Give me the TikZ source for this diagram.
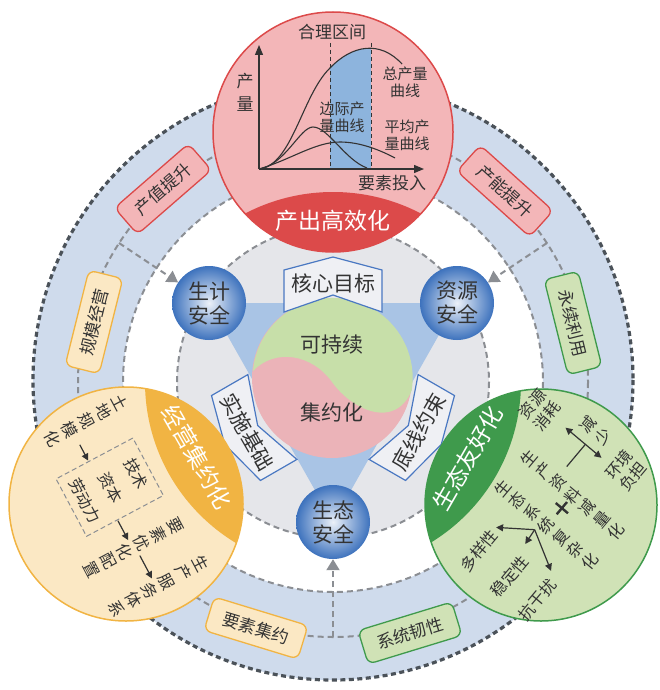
\documentclass[tikz,border=0pt]{standalone}
\usepackage{fontspec}
\setmainfont{Noto Sans CJK SC}
\usetikzlibrary{arrows.meta}

\definecolor{ringfill}{HTML}{CFDBEC}
\definecolor{ringedge}{HTML}{4B5259}
\definecolor{dashgray}{HTML}{8B8E93}
\definecolor{diskgray}{HTML}{E5E6EA}
\definecolor{triblue}{HTML}{A9C4E5}
\definecolor{yingreen}{HTML}{C7DFA9}
\definecolor{yangpink}{HTML}{EBB3B8}
\definecolor{chevfill}{HTML}{EFF0F4}
\definecolor{chevedge}{HTML}{4A78C2}
\definecolor{ballblue}{HTML}{3D72BD}
\definecolor{redlight}{HTML}{F3B6B8}
\definecolor{reddark}{HTML}{DC4A4A}
\definecolor{orlight}{HTML}{FBE8C4}
\definecolor{ordark}{HTML}{F1B443}
\definecolor{grlight}{HTML}{D0E2B6}
\definecolor{grdark}{HTML}{3F9A4C}
\definecolor{chartblue}{HTML}{8DB4DD}
\definecolor{ink}{HTML}{333333}

\begin{document}
\begin{tikzpicture}[x=1pt,y=-1pt,>={Triangle[length=7pt,width=7pt]},
  graydash/.style={draw=dashgray,line width=2pt,dash pattern=on 6pt off 4pt},
  tag/.style={rounded corners=7pt,line width=1.3pt,minimum width=98pt,minimum height=35pt,inner sep=0pt,text=ink,font=\fontsize{17}{20}\selectfont},
  redtag/.style={tag,draw=reddark,fill=redlight},
  ortag/.style={tag,draw=ordark,fill=orlight},
  grtag/.style={tag,draw=grdark,fill=grlight},
  safety/.style={circle,minimum size=74pt,inner sep=0pt,inner color=white!90!ballblue,outer color=ballblue,align=center,text=ink,font=\fontsize{21}{24}\selectfont},
  chev/.style={fill=chevfill,draw=chevedge,line width=1.2pt},
  chevtext/.style={text=ink,font=\fontsize{21}{24}\selectfont},
  bigcirc/.style={circle,minimum size=#1,inner sep=0pt,line width=1.5pt},
  segtext/.style={text=white,font=\fontsize{23}{26}\selectfont},
  small/.style={text=ink,align=center,font=\fontsize{15}{17}\selectfont},
  col/.style={text=ink,align=center,font=\fontsize{16}{19}\selectfont},
  pointer/.style={graydash,-{Triangle[length=11pt,width=13pt,fill=dashgray]}}
]
\useasboundingbox (0,0) rectangle (660,690);

% outer ring
\fill[ringfill,even odd rule] (333,380) circle[radius=300] (333,382) circle[radius=210];
\draw[ringedge,line width=3.2pt,dash pattern=on 5pt off 3.5pt] (333,380) circle[radius=300];
\draw[graydash] (333,382) circle[radius=210];
\draw[graydash] (333,382) circle[radius=255];

% core disk
\fill[diskgray] (333,382) circle[radius=156];
\draw[graydash] (333,382) circle[radius=156];

\coordinate (pA) at (209,303);
\coordinate (pB) at (457,303);
\coordinate (pC) at (333,522);
\fill[triblue] (pA) -- (pB) -- (pC) -- cycle;

% yin yang
\fill[yangpink] (332,378) circle[radius=80];
\fill[yingreen] (253,371) arc[start angle=185,end angle=369,radius=80]
  .. controls (395,430) and (352,410) .. (332,382)
  .. controls (312,354) and (275,348) .. (253,371) -- cycle;
\node[chevtext] (sus) at (332,345) {可持续};
\node[chevtext] (inten) at (332,412) {集约化};

% chevrons
\foreach \a in {0,120,-120}
  \draw[chev,rotate around={\a:(333,382)}] (333,257) -- (382,270) -- (382,312) -- (333,295) -- (284,312) -- (284,270) -- cycle;
\node[chevtext] (goal) at (333,283) {核心目标};
\node[chevtext,rotate=-60] (base) at (247,432) {实施基础};
\node[chevtext,rotate=60] (limit) at (419,432) {底线约束};

% safety
\node[safety] (live) at (pA) {生计\\安全};
\node[safety] (res) at (pB) {资源\\安全};
\node[safety] (eco) at (pC) {生态\\安全};

\coordinate (jA) at (119,243);
\coordinate (jB) at (547,243);
\coordinate (jC) at (333,637);
\draw[pointer] (jA) -- (live);
\draw[pointer] (jB) -- (res);
\draw[pointer] (jC) -- (eco);

% ring tags
\node[redtag,rotate=41] (val) at (163,189) {产值提升};
\node[ortag,rotate=76] (scale) at (94,322) {规模经营};
\node[redtag,rotate=-42] (cap) at (505,191) {产能提升};
\node[grtag,rotate=-76] (perm) at (573,323) {永续利用};
\node[ortag,rotate=-17] (elem) at (256,628) {要素集约};
\node[grtag,rotate=17] (resil) at (410,633) {系统韧性};

% output circle
\node[bigcirc=240pt,fill=redlight] (out) at (333,132) {};
\begin{scope}
  \clip (333,382) circle[radius=190];
  \fill[reddark] (out.center) circle[radius=120];
\end{scope}
\draw[reddark,line width=1.5pt] (out.center) circle[radius=120];
\node[segtext] (outlbl) at (333,221) {产出高效化};

\coordinate (o) at (259,169);
\begin{scope}
  \clip (o) .. controls (292,166) and (302,95) .. (330,68) .. controls (352,45) and (380,40) .. (402,64) -- (402,169) -- cycle;
  \fill[chartblue] (330,30) rectangle (371,169);
\end{scope}
\draw[ink,line width=1pt,dash pattern=on 4pt off 3pt] (330,43) -- (330,169) (371,43) -- (371,169);
\draw[ink,line width=1.1pt] (o) .. controls (292,166) and (302,95) .. (330,68) .. controls (352,45) and (380,40) .. (402,64);
\draw[ink,line width=1.1pt] (o) .. controls (285,165) and (300,127) .. (313,127) .. controls (328,127) and (345,160) .. (367,168);
\draw[ink,line width=1.1pt] (o) .. controls (290,160) and (315,142) .. (340,142) .. controls (360,142) and (380,150) .. (395,158);
\draw[ink,line width=1.2pt,-{Triangle[length=10pt,width=8pt]}] (o) -- (259,45);
\draw[ink,line width=1.2pt,-{Triangle[length=10pt,width=8pt]}] (o) -- (424,169);
\node[small,font=\fontsize{17}{19}\selectfont] (range) at (332,32) {合理区间};
\node[small,font=\fontsize{17}{23}\selectfont] (yield) at (245,92) {产\\量};
\node[small] (tp) at (405,82) {总产量\\曲线};
\node[small] (mp) at (342,117) {边际产\\量曲线};
\node[small] (ap) at (407,135) {平均产\\量曲线};
\node[small,font=\fontsize{17}{19}\selectfont] (input) at (392,183) {要素投入};

% operation circle
\node[bigcirc=234pt,fill=orlight] (ops) at (126,504) {};
\begin{scope}
  \clip (333,382) circle[radius=188];
  \fill[ordark] (ops.center) circle[radius=117];
\end{scope}
\draw[ordark,line width=1.5pt] (ops.center) circle[radius=117];
\node[segtext,rotate=-60] (opslbl) at (197,457) {经营集约化};
\begin{scope}[shift={(126,504)},rotate=-62,transform shape]
  \node[col] (land) at (-92,-4) {土\\地\\规\\模\\化};
  \draw[ink,line width=1.2pt,->] (-74,13) -- (-56,13);
  \draw[dashgray,line width=1pt,dash pattern=on 5pt off 3pt] (-55,-37) rectangle (10,50);
  \node[col,font=\fontsize{16}{29}\selectfont] (mix) at (-22,6) {技术\\资本\\劳动力};
  \draw[ink,line width=1.2pt,->] (11,15) -- (33,15);
  \node[col] (alloc) at (42,14) {要\\素\\优\\化\\配\\置};
  \draw[ink,line width=1.2pt,->] (52,12) -- (78,12);
  \node[col] (serv) at (88,10) {生\\产\\服\\务\\体\\系};
\end{scope}

% ecology circle
\node[bigcirc=232pt,fill=grlight] (eco2) at (541,505) {};
\begin{scope}
  \clip (333,382) circle[radius=188];
  \fill[grdark] (eco2.center) circle[radius=116];
\end{scope}
\draw[grdark,line width=1.5pt] (eco2.center) circle[radius=116];
\node[segtext,rotate=60] (ecolbl) at (468,458) {生态友好化};
\begin{scope}[shift={(541,505)},rotate=50,transform shape]
  \node[col] (cut) at (28,18) {生\\产\\资\\料\\减\\量\\化};
  \node[col] (cplx) at (-12,17) {生\\态\\系\\统\\复\\杂\\化};
  \draw[ink,line width=2.4pt] (3,18) -- (19,18) (11,10) -- (11,26);
  \node[col] (cons) at (72,-62) {资源\\消耗};
  \node[col] (burd) at (81,43) {环境\\负担};
  \node[col] (less) at (92,-6) {减\\少};
  \draw[ink,line width=1.2pt,<->] (75,-31) -- (75,16);
  \draw[ink,line width=1.2pt] (46,-5) -- (75,-5);
  \node[col] (div) at (-75,-18) {多样性};
  \node[col] (stab) at (-75,22) {稳定性};
  \node[col] (dist) at (-75,58) {抗干扰};
  \coordinate (fork) at (-23,11);
  \draw[ink,line width=1.2pt,->] (fork) -- (-46,-20);
  \draw[ink,line width=1.2pt,->] (fork) -- (-40,13);
  \draw[ink,line width=1.2pt,->] (fork) -- (-44,50);
\end{scope}
\end{tikzpicture}
\end{document}
